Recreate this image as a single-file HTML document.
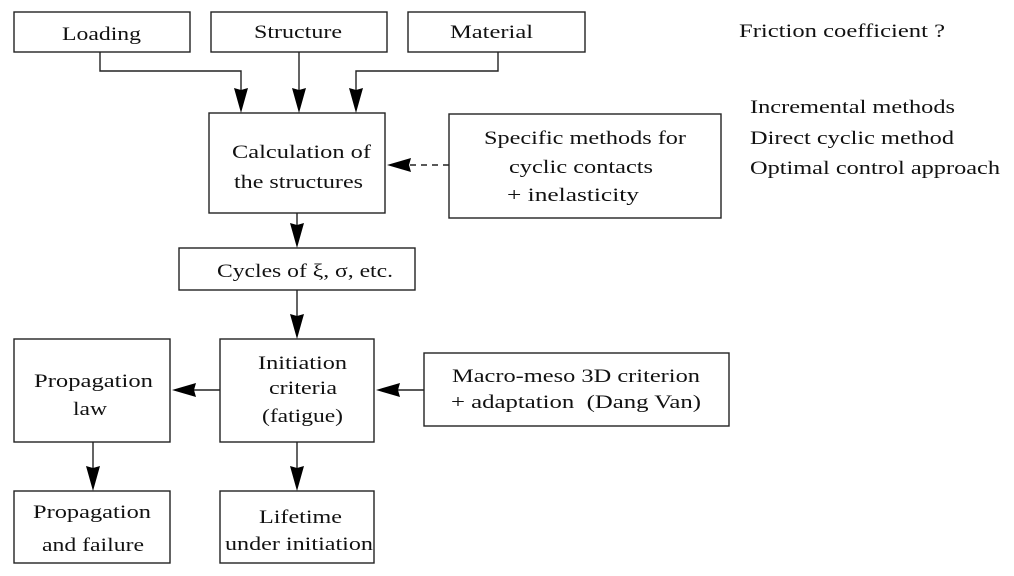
<!DOCTYPE html>
<html><head><meta charset="utf-8"><style>
html,body{margin:0;padding:0;background:#fff;}
svg{display:block;}
text{font-family:"Liberation Serif","Times New Roman",Times,serif;font-size:19px;fill:#111;}
</style></head><body>
<svg width="1014" height="576" viewBox="0 0 1014 576" xmlns="http://www.w3.org/2000/svg" font-family="Liberation Serif, Times New Roman, serif">
<g fill="none" stroke="#222" stroke-width="1.4">
<rect x="14" y="12" width="176" height="40"/>
<rect x="211" y="12" width="176" height="40"/>
<rect x="408" y="12" width="177" height="40"/>
<rect x="209" y="113" width="176" height="100"/>
<rect x="449" y="114" width="272" height="104"/>
<rect x="179" y="248" width="236" height="42"/>
<rect x="220" y="339" width="154" height="103"/>
<rect x="14" y="339" width="156" height="103"/>
<rect x="424" y="353" width="305" height="73"/>
<rect x="14" y="491" width="156" height="72"/>
<rect x="220" y="491" width="154" height="72"/>
<polyline points="100,52 100,71 241,71 241,92"/>
<line x1="299" y1="52" x2="299" y2="92"/>
<polyline points="498,52 498,71 356,71 356,92"/>
<line x1="449" y1="165" x2="408" y2="165" stroke-dasharray="6,5"/>
<line x1="297" y1="213" x2="297" y2="228"/>
<line x1="297" y1="290" x2="297" y2="318"/>
<line x1="220" y1="390" x2="192" y2="390"/>
<line x1="424" y1="390" x2="396" y2="390"/>
<line x1="93" y1="442" x2="93" y2="470"/>
<line x1="297" y1="442" x2="297" y2="470"/>
</g>
<g fill="#000">
<polygon points="241,113 234,88 241,90 248,88"/>
<polygon points="299,113 292,88 299,90 306,88"/>
<polygon points="356,113 349,88 356,90 363,88"/>
<polygon points="297,248 290,223 297,225 304,223"/>
<polygon points="297,339 290,314 297,316 304,314"/>
<polygon points="93,491 86,466 93,468 100,466"/>
<polygon points="297,491 290,466 297,468 304,466"/>
<polygon points="387,165 411,158 409,165 411,172"/>
<polygon points="172,390 196,383 194,390 196,397"/>
<polygon points="376,390 400,383 398,390 400,397"/>
</g>
<text x="62" y="40" textLength="79" lengthAdjust="spacingAndGlyphs">Loading</text>
<text x="254" y="38" textLength="88" lengthAdjust="spacingAndGlyphs">Structure</text>
<text x="450" y="38" textLength="83" lengthAdjust="spacingAndGlyphs">Material</text>
<text x="739" y="37" textLength="206" lengthAdjust="spacingAndGlyphs">Friction coefficient ?</text>
<text x="750" y="113" textLength="205" lengthAdjust="spacingAndGlyphs">Incremental methods</text>
<text x="750" y="144" textLength="204" lengthAdjust="spacingAndGlyphs">Direct cyclic method</text>
<text x="750" y="174" textLength="250" lengthAdjust="spacingAndGlyphs">Optimal control approach</text>
<text x="232" y="158" textLength="139" lengthAdjust="spacingAndGlyphs">Calculation of</text>
<text x="234" y="188" textLength="129" lengthAdjust="spacingAndGlyphs">the structures</text>
<text x="484" y="144" textLength="202" lengthAdjust="spacingAndGlyphs">Specific methods for</text>
<text x="509" y="173" textLength="144" lengthAdjust="spacingAndGlyphs">cyclic contacts</text>
<text x="507" y="201" textLength="132" lengthAdjust="spacingAndGlyphs">+  inelasticity</text>
<text x="217" y="277" textLength="176" lengthAdjust="spacingAndGlyphs">Cycles of ξ, σ, etc.</text>
<text x="258" y="369" textLength="89" lengthAdjust="spacingAndGlyphs">Initiation</text>
<text x="269" y="394" textLength="68" lengthAdjust="spacingAndGlyphs">criteria</text>
<text x="262" y="422" textLength="81" lengthAdjust="spacingAndGlyphs">(fatigue)</text>
<text x="34" y="387" textLength="119" lengthAdjust="spacingAndGlyphs">Propagation</text>
<text x="73" y="415" textLength="34" lengthAdjust="spacingAndGlyphs">law</text>
<text x="452" y="382" textLength="248" lengthAdjust="spacingAndGlyphs">Macro-meso 3D criterion</text>
<text x="451" y="408" textLength="250" lengthAdjust="spacingAndGlyphs" xml:space="preserve">+ adaptation  (Dang Van)</text>
<text x="33" y="518" textLength="118" lengthAdjust="spacingAndGlyphs">Propagation</text>
<text x="42" y="551" textLength="102" lengthAdjust="spacingAndGlyphs">and failure</text>
<text x="259" y="523" textLength="83" lengthAdjust="spacingAndGlyphs">Lifetime</text>
<text x="225" y="550" textLength="148" lengthAdjust="spacingAndGlyphs">under initiation</text>
</svg>
</body></html>
